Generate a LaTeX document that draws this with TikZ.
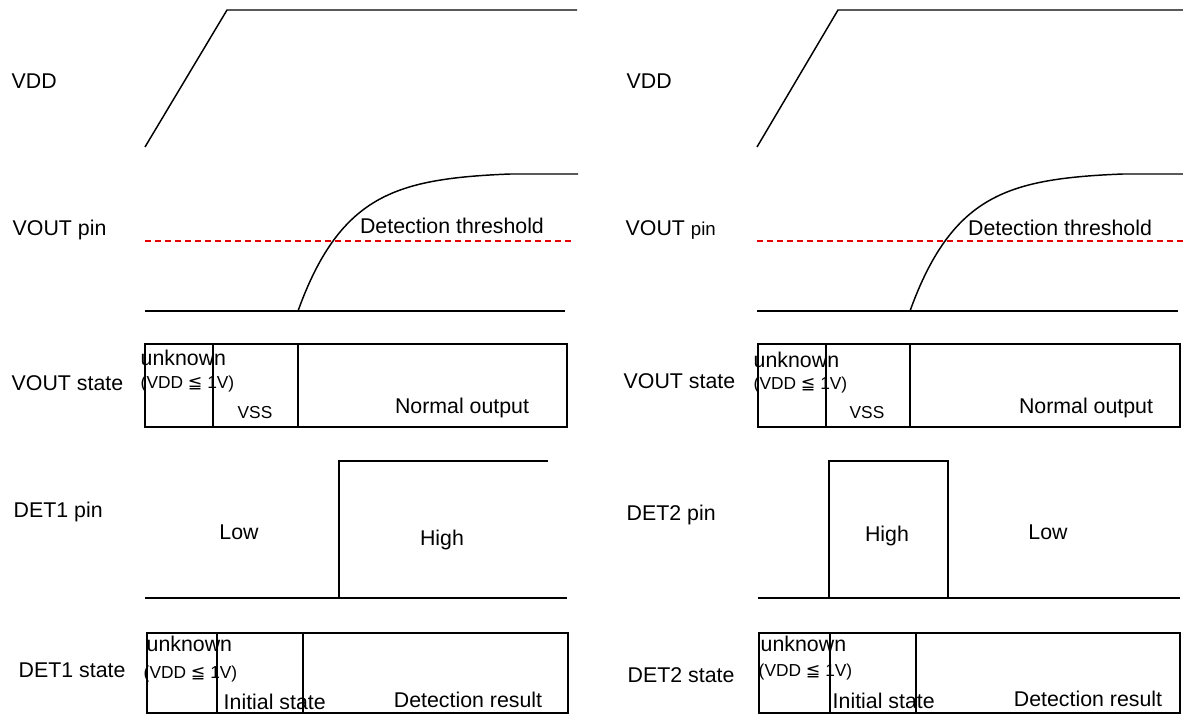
\documentclass[tikz,border=0pt]{standalone}
\usepackage{fontspec}
\setmainfont{Liberation Sans}
\newfontfamily\symfont{DejaVu Sans}
\usepackage{tikz}

\begin{document}
\begin{tikzpicture}[x=0.75pt,y=-0.75pt,line width=1.1pt,
    lbl/.style={anchor=base west,inner sep=0pt,font=\fontsize{16}{19}\selectfont},
    txt/.style={anchor=base,inner sep=0pt,font=\fontsize{16}{19}\selectfont},
    smalltxt/.style={inner sep=0pt,font=\fontsize{13}{15}\selectfont},
    thr/.style={red!90!black,line width=0.8pt,dash pattern=on 4.5pt off 3pt}]
    \useasboundingbox (0,0) rectangle (1183,715);

    % left side: DET1
    \node[lbl] (vddA) at (11,88) {VDD};
    \draw (145,147) -- (227,10) -- (577,10);

    \node[lbl] (voutpinA) at (12,235) {VOUT pin};
    \draw[thr] (145,241) -- (573,241);
    \draw (145,311) -- (565,311);
    \draw[domain=298:510,samples=60,smooth] plot (\x, {311-137*(1-exp(-(\x-298)/50))/(1-exp(-212/50))}) -- (578,174);
    \node[txt] (thrA) at (452,233) {Detection threshold};

    \node[lbl] (voutstA) at (11,390) {VOUT state};
    \draw (145,344) rectangle (567,427);
    \draw (213,344) -- (213,427);
    \draw (298,344) -- (298,427);
    \node[lbl] (unkA) at (140,365) {unknown};
    \node[smalltxt,anchor=base west] (condA) at (140,388) {(VDD {\symfont ≦} 1V)};
    \node[smalltxt,anchor=base] (vssA) at (255,418) {VSS};
    \node[txt] (normA) at (462,413) {Normal output};

    \node[lbl] (detpinA) at (13,517) {DET1 pin};
    \draw (145,598) -- (567,598);
    \draw (339,598) -- (339,461) -- (548,461);
    \node[txt] (lowA) at (239,539) {Low};
    \node[txt] (highA) at (442,545) {High};

    \node[lbl] (detstA) at (18,677) {DET1 state};
    \draw (147,633) rectangle (568,713);
    \draw (217,633) -- (217,713);
    \draw (303,633) -- (303,713);
    \node[lbl] (unkC) at (146,651) {unknown};
    \node[smalltxt,anchor=base west] (condC) at (143,678) {(VDD {\symfont ≦} 1V)};
    \node[lbl] (initA) at (223,709) {Initial state};
    \node[txt] (resA) at (468,707) {Detection result};

    % right side: DET2
    \node[lbl] (vddB) at (626,88) {VDD};
    \draw (757,147) -- (838,10) -- (1183,10);

    \node[lbl] (voutpinB) at (625,235) {VOUT {\fontsize{14}{16}\selectfont pin}};
    \draw[thr] (757,241) -- (1183,241);
    \draw (757,311) -- (1178,311);
    \draw[domain=910:1123,samples=60,smooth] plot (\x, {311-137*(1-exp(-(\x-910)/50))/(1-exp(-213/50))}) -- (1183,174);
    \node[txt] (thrB) at (1060,235) {Detection threshold};

    \node[lbl] (voutstB) at (623,388) {VOUT state};
    \draw (758,344) rectangle (1180,427);
    \draw (826,344) -- (826,427);
    \draw (910,344) -- (910,427);
    \node[lbl] (unkB) at (753,367) {unknown};
    \node[smalltxt,anchor=base west] (condB) at (753,389) {(VDD {\symfont ≦} 1V)};
    \node[smalltxt,anchor=base] (vssB) at (867,418) {VSS};
    \node[txt] (normB) at (1086,413) {Normal output};

    \node[lbl] (detpinB) at (626,520) {DET2 pin};
    \draw (758,598) -- (1180,598);
    \draw (829,598) -- (829,461) -- (948,461) -- (948,598);
    \node[txt] (highB) at (887,541) {High};
    \node[txt] (lowB) at (1048,539) {Low};

    \node[lbl] (detstB) at (627,682) {DET2 state};
    \draw (759,633) rectangle (1180,713);
    \draw (830,633) -- (830,713);
    \draw (916,633) -- (916,713);
    \node[lbl] (unkD) at (760,651) {unknown};
    \node[smalltxt,anchor=base west] (condD) at (758,676) {(VDD {\symfont ≦} 1V)};
    \node[lbl] (initB) at (832,708) {Initial state};
    \node[txt] (resB) at (1088,706) {Detection result};
\end{tikzpicture}
\end{document}
